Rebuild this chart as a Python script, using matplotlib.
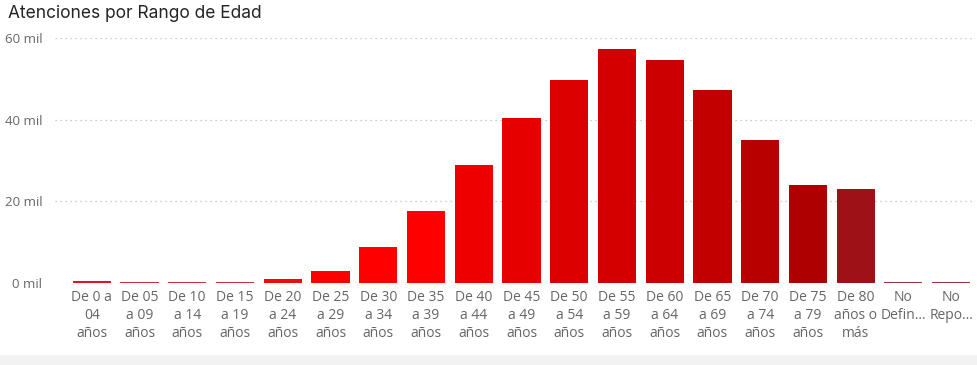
import matplotlib
matplotlib.use("Agg")
import matplotlib.pyplot as plt
from matplotlib.patches import Rectangle
from matplotlib.ticker import FuncFormatter

categories = [
    "De 0 a\n04\naños", "De 05\na 09\naños", "De 10\na 14\naños", "De 15\na 19\naños",
    "De 20\na 24\naños", "De 25\na 29\naños", "De 30\na 34\naños", "De 35\na 39\naños",
    "De 40\na 44\naños", "De 45\na 49\naños", "De 50\na 54\naños", "De 55\na 59\naños",
    "De 60\na 64\naños", "De 65\na 69\naños", "De 70\na 74\naños", "De 75\na 79\naños",
    "De 80\naños o\nmás", "No\nDefin...", "No\nRepo...",
]
values = [450, 300, 300, 300, 1000, 2900, 8800, 17600, 28900, 40400,
          49700, 57300, 54600, 47300, 35000, 24000, 23000, 300, 300]
yticks = [0, 20000, 40000, 60000]
title = "Atenciones por Rango de Edad"

colors = ['#E81123', '#C8303C', '#C8303C', '#C8303C', '#F00A0A', '#FF0000', '#FF0000',
          '#FF0000', '#EE0000', '#E60000', '#DD0000', '#D40000', '#CC0000', '#C20000',
          '#B80000', '#AE0000', '#9E1116', '#A03038', '#A03038']

FONT = ['Open Sans', 'DejaVu Sans']
plt.rcParams['font.family'] = FONT

fig = plt.figure(figsize=(9.78, 3.65), dpi=100)
fig.patch.set_facecolor('white')
fig.patches.append(Rectangle((0, 0), 1, 10/365, transform=fig.transFigure,
                             facecolor='#F2F2F2', edgecolor='none', zorder=0))

ax = fig.add_axes([55/978, 82/365, 920/978, 245/365])
x = list(range(len(categories)))
ax.bar(x, values, width=0.8, color=colors, zorder=3)
ax.set_xlim(-0.77, 18.5)
ax.set_ylim(0, 60000)
ax.set_yticks(yticks)
ax.yaxis.set_major_formatter(FuncFormatter(lambda v, p: f"{int(v/1000)} mil"))
ax.set_xticks(x)
ax.set_xticklabels(categories, linespacing=1.26)
ax.tick_params(axis='both', length=0, colors='#666666')
ax.tick_params(axis='x', labelsize=10, pad=5)
ax.tick_params(axis='y', labelsize=9.5, pad=9)
for s in ax.spines.values():
    s.set_visible(False)
ax.grid(axis='y', linestyle=(0, (1, 3)), color='#BBBBBB', linewidth=0.9, zorder=0)
ax.set_axisbelow(True)

fig.text(8/978, 1 - 13/365, title, fontsize=12.5, color='#252423',
         va='center', ha='left', family=['Inter', 'DejaVu Sans'])

fig.savefig("out.png", dpi=100)
